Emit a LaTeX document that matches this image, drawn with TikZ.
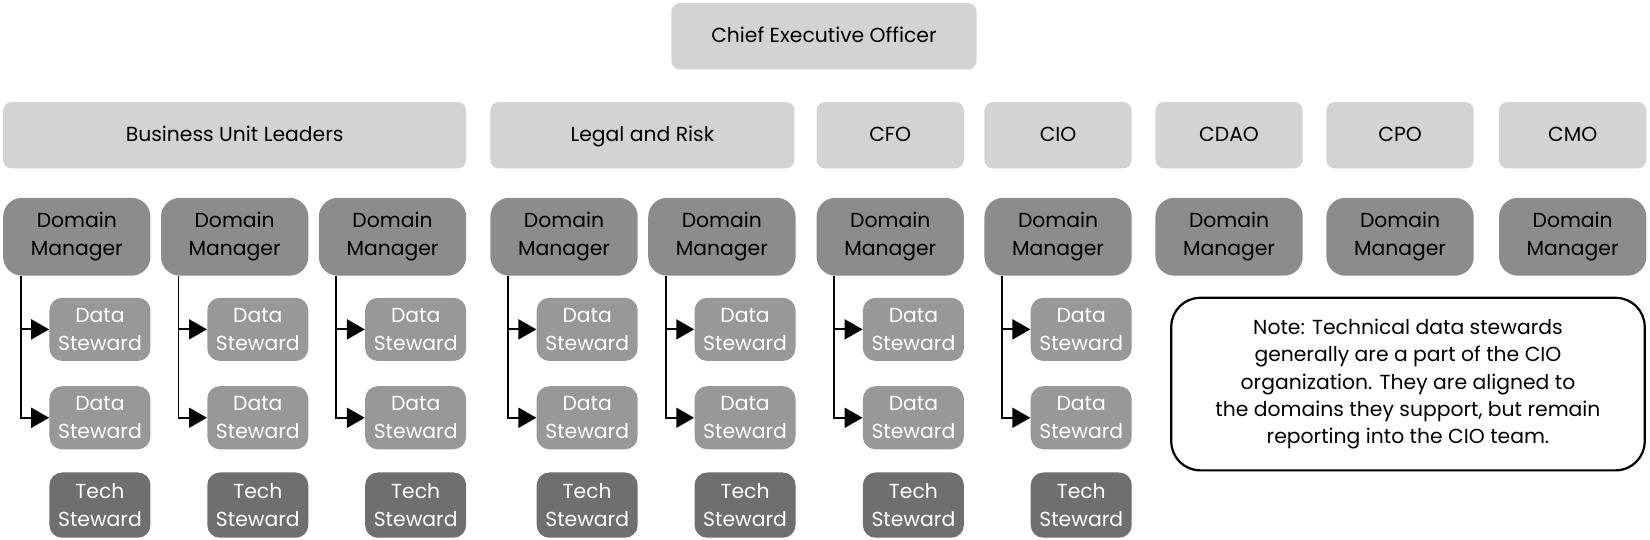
\documentclass[tikz,border=0pt]{standalone}
\usepackage{fontspec}
\setmainfont{Poppins}
\usetikzlibrary{arrows.meta}
\definecolor{toplevel}{RGB}{211,211,211}
\definecolor{domaingray}{RGB}{140,140,140}
\definecolor{datagray}{RGB}{152,152,152}
\definecolor{techgray}{RGB}{111,111,111}

\begin{document}
\begin{tikzpicture}[x=0.02cm, y=-0.02cm,
    lead/.style={rectangle, rounded corners=0.16cm, fill=toplevel, minimum height=1.26cm, text height=0.8em, text depth=0.1em, font=\fontsize{11}{15}\selectfont},
    manager/.style={rectangle, rounded corners=0.36cm, fill=domaingray, minimum width=2.8cm, minimum height=1.48cm, align=center, font=\fontsize{11}{15}\selectfont},
    datastew/.style={rectangle, rounded corners=0.24cm, fill=datagray, text=white, minimum width=1.92cm, minimum height=1.2cm, align=center, font=\fontsize{11}{15}\selectfont},
    techstew/.style={datastew, fill=techgray, minimum height=1.24cm},
    link/.style={-{Triangle[length=0.34cm,width=0.38cm]}, line width=1pt}]
    \useasboundingbox (0,0) rectangle (1568,513);

    % Chief Executive
    \node[lead, minimum width=5.8cm] (ceo) at (783,34.5) {Chief Executive Officer};

    % Leadership row
    \node[lead, minimum width=8.8cm] (bul) at (223,128.5) {Business Unit Leaders};
    \node[lead, minimum width=5.78cm] (legal) at (610.5,128.5) {Legal and Risk};
    \node[lead, minimum width=2.8cm] (cfo) at (846,128.5) {CFO};
    \node[lead, minimum width=2.8cm] (cio) at (1005.5,128.5) {CIO};
    \node[lead, minimum width=2.8cm] (cdao) at (1168,128.5) {CDAO};
    \node[lead, minimum width=2.8cm] (cpo) at (1330.5,128.5) {CPO};
    \node[lead, minimum width=2.8cm] (cmo) at (1494.5,128.5) {CMO};

    % Domain managers
    \foreach \n/\x in {1/73, 2/223, 3/373, 4/536, 5/686, 6/846, 7/1005.5, 8/1168, 9/1330.5, 10/1494.5}
        \node[manager] (dm\n) at (\x,225) {Domain\\Manager};

    % Steward rows
    \coordinate (rowa) at (0,313);
    \coordinate (rowb) at (0,397);
    \coordinate (rowc) at (0,480);
    \foreach \n in {1,...,7} {
        \node[datastew, anchor=east] (dsa\n) at (dm\n.east |- rowa) {Data\\Steward};
        \node[datastew, anchor=east] (dsb\n) at (dm\n.east |- rowb) {Data\\Steward};
        \node[techstew, anchor=east] (ts\n) at (dm\n.east |- rowc) {Tech\\Steward};
        \draw[link] ([xshift=0.34cm]dm\n.south west) |- (dsa\n.west);
        \draw[link] ([xshift=0.34cm]dm\n.south west) |- (dsb\n.west);
    }

    % Note
    \node[draw, line width=1.2pt, rounded corners=0.55cm, fill=white, minimum width=9cm, minimum height=3.28cm, align=center, font=\fontsize{11}{14.7}\selectfont] (note) at (1338,365)
        {Note: Technical data stewards\\generally are a part of the CIO\\organization. They are aligned to\\the domains they support, but remain\\reporting into the CIO team.};
\end{tikzpicture}
\end{document}
